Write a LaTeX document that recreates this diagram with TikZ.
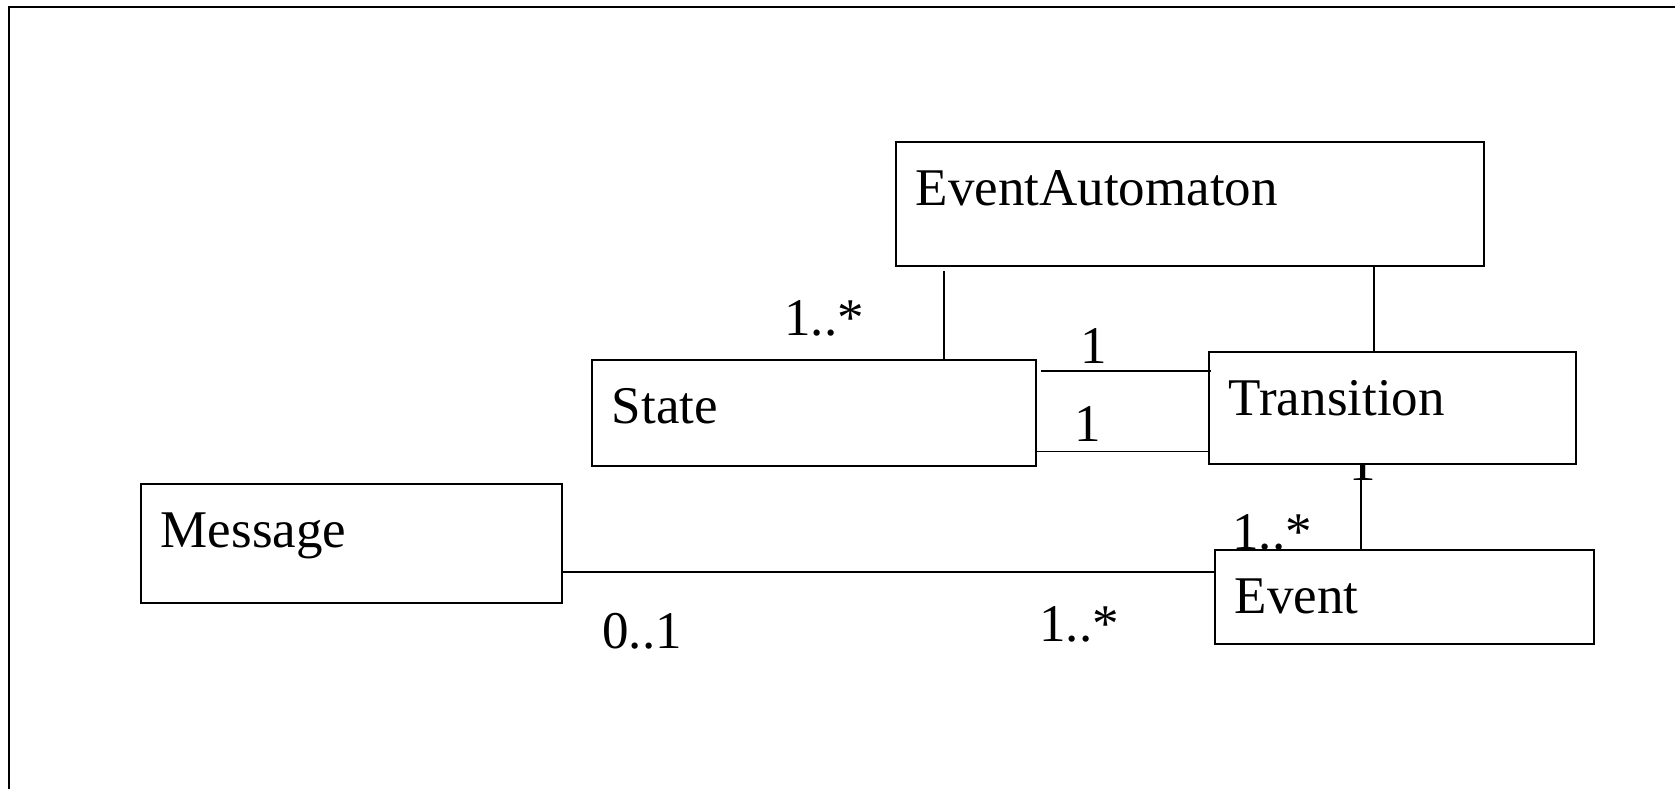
\documentclass[tikz,border=0pt]{standalone}
\usepackage{fontspec}
\setmainfont{Liberation Serif}
\usetikzlibrary{positioning}

\begin{document}
\begin{tikzpicture}[x=0.5pt,y=-0.5pt,line width=0.7pt,
	every node/.style={font=\fontsize{26.5}{30}\selectfont},
	cls/.style={draw,rectangle,fill=white,anchor=north west,align=left,line width=0.8pt,inner xsep=10pt,inner ysep=0pt,text height=32pt},
	mult/.style={anchor=base,inner sep=0pt}]

	\useasboundingbox (0,0) rectangle (1675,788);
	\draw[line width=1.2pt] (9,800) -- (9,7) -- (1690,7);

	% multiplicity tucked under the Transition box
	\node[mult] (mTE) at (1363,480) {1};

	% classes
	\node[cls,text width=274pt,text depth=30pt] (EA) at (895,141) {EventAutomaton};
	\node[cls,text width=202pt,text depth=21pt] (State) at (591,359) {State};
	\node[cls,text width=163.5pt,text depth=24pt] (Trans) at (1208,351) {Transition};
	\node[cls,text width=190.5pt,text depth=27.5pt] (Msg) at (140,483) {Message};
	\node[cls,text width=169.5pt,text depth=15pt] (Event) at (1214,549) {Event};

	% associations
	\draw ([xshift=176.5pt]State.north west) -- ([xshift=24.5pt,yshift=-2pt]EA.south west);
	\draw ([xshift=239.5pt]EA.south west) -- ([xshift=83pt]Trans.north west);
	\draw ([xshift=2pt,yshift=-6pt]State.north east) -- ([xshift=1.5pt,yshift=-10pt]Trans.north west);
	\draw ([xshift=-1pt,yshift=7.5pt]State.south east) -- ([yshift=6.5pt]Trans.south west);
	\draw ([xshift=76.5pt]Trans.south west) -- ([xshift=73.5pt,yshift=-1pt]Event.north west);
	\draw ([yshift=-44.5pt]Msg.north east) -- ([yshift=-11.5pt]Event.north west);

	% multiplicities
	\node[mult] (mSA) at (824,335) {1..*};
	\node[mult] (mST) at (1094,363) {1};
	\node[mult] (mTS) at (1088,441) {1};
	\node[mult] (mET) at (1272,549) {1..*};
	\node[mult] (mME) at (642,648) {0..1};
	\node[mult] (mEM) at (1079,641) {1..*};
\end{tikzpicture}
\end{document}
